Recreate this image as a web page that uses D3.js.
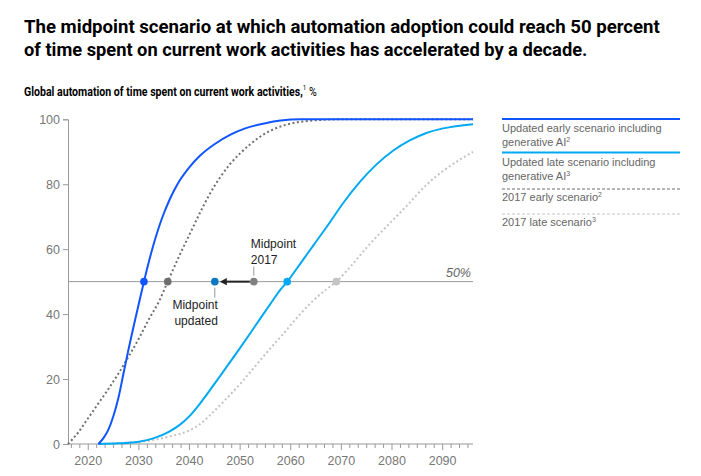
<!DOCTYPE html>
<html>
<head>
<meta charset="utf-8">
<script src="https://cdn.jsdelivr.net/npm/d3@7"></script>
<style>
  body { margin: 0; background: #fff; }
  text { font-family: "Liberation Sans", Arial, sans-serif; }
  .head { font-family: Roboto, "Liberation Sans", sans-serif; }
</style>
</head>
<body>
<script>
// series: [year, % of time automated]
var earlyNew = [[2022,0],[2023,1.8],[2024,4.5],[2025,8.8],[2026,14.5],[2027,22],[2028,29.5],[2029,36.5],[2030,43.3],[2031,50],[2032,56.3],[2033,62],[2034,67],[2035,71.3],[2036,75],[2037,78.2],[2038,81],[2040,85.3],[2042,88.7],[2045,92.4],[2048,95.2],[2051,97.2],[2055,98.8],[2058,99.6],[2062,100],[2096,100]];
var lateNew = [[2022,0],[2026,0.2],[2030,0.7],[2033,1.8],[2036,3.8],[2038,5.8],[2040,8.6],[2042,12.3],[2044,16.5],[2046,20.8],[2048,25.2],[2050,29.6],[2052,34.1],[2054,38.7],[2056,43.2],[2058,47.6],[2059.3,50],[2062,55.8],[2064.3,60.8],[2067.6,68],[2070.4,74.3],[2073.7,80.8],[2077,86.2],[2080.2,90.3],[2083.5,93.5],[2086.8,95.8],[2090.1,97.2],[2096,98.5]];
var earlyOld = [[2016,0],[2018,3.5],[2020,8],[2022,12.5],[2024,17],[2026,21.8],[2028,27],[2030,32.5],[2032,38.5],[2034,44],[2035.7,50],[2038,58],[2040,64.5],[2042,71],[2044,77],[2046,82],[2048,86.2],[2050,89.5],[2052,92.3],[2054,94.7],[2056,96.5],[2058,97.8],[2061,99],[2065,99.7],[2070,100],[2096,100]];
var lateOld = [[2022,0],[2028,0.4],[2032,1],[2036,2.3],[2040,4.2],[2042,6],[2044,8.8],[2047,13.5],[2050,18.5],[2053,24],[2056,29.5],[2058,33],[2061,38.5],[2064,43.5],[2066.5,47],[2069,50],[2072,55],[2075,60.5],[2078,65.5],[2080.2,69],[2083,73.5],[2086.8,79.8],[2090,84],[2093,87.2],[2096,90]];

// where each scenario crosses 50%
var crossYears = [2031, 2035.7, 2059.3, 2069];
var crossColors = ["#1055ff", "#6f6f6f", "#00a9f2", "#c4c4c4"];
// midpoint markers (updated, 2017)
var midYears = [2045, 2052.7];
var midLabels = [["Midpoint", "updated"], ["Midpoint", "2017"]];

var yTicks = [0, 20, 40, 60, 80, 100];
var xTicks = [2020, 2030, 2040, 2050, 2060, 2070, 2080, 2090];

var legendLabels = [
  ["Updated early scenario including", "generative AI", "2"],
  ["Updated late scenario including", "generative AI", "3"],
  ["2017 early scenario", "", "2"],
  ["2017 late scenario", "", "3"]
];

var W = 701, H = 476;
var svg = d3.select("body").append("svg")
    .attr("width", W)
    .attr("height", H);

var x = d3.scaleLinear().domain([2016, 2096]).range([68, 473]);
var y = d3.scaleLinear().domain([0, 100]).range([444, 119.3]);

// the original uses a condensed face: squeeze each heading line to its width
function squeeze(sel, x0, width) {
  var w = sel.node().getComputedTextLength();
  sel.attr("x", 0).attr("transform", "translate(" + x0 + ",0) scale(" + (width / w) + ",1)");
}

var t1 = svg.append("text").attr("class", "head").attr("y", 33)
    .attr("font-size", 19).attr("font-weight", "bold").attr("fill", "#000")
    .text("The midpoint scenario at which automation adoption could reach 50 percent");
squeeze(t1, 24, 636);
var t2 = svg.append("text").attr("class", "head").attr("y", 56)
    .attr("font-size", 19).attr("font-weight", "bold").attr("fill", "#000")
    .text("of time spent on current work activities has accelerated by a decade.");
squeeze(t2, 24, 564);

var sub = svg.append("text").attr("class", "head").attr("y", 96)
    .attr("font-size", 13.5).attr("fill", "#000");
sub.append("tspan").attr("font-weight", "bold").text("Global automation of time spent on current work activities,");
sub.append("tspan").attr("font-size", 8).attr("dy", -5.5).text("1");
sub.append("tspan").attr("dy", 5.5).text(" %");
squeeze(sub, 24, 293);

// axes
var yAxis = d3.axisLeft(y).tickValues(yTicks).tickSize(5).tickPadding(3);
var gy = svg.append("g").attr("transform", "translate(68,0)").call(yAxis);
gy.select(".domain").attr("stroke", "#999");
gy.selectAll(".tick line").attr("stroke", "#999");
gy.selectAll("text").attr("font-size", 12.5).attr("fill", "#777")
    .style("font-family", "'Liberation Sans', Arial, sans-serif");

var minor = d3.range(2016 + 2/3, 2096.01, 10/6);
var gx = svg.append("g").attr("transform", "translate(0,444)");
gx.append("line").attr("x1", 68).attr("x2", 473).attr("stroke", "#999");
gx.selectAll(".mt").data(minor).enter().append("line")
    .attr("x1", function(d) { return x(d); }).attr("x2", function(d) { return x(d); })
    .attr("y1", 0).attr("y2", function(d) { return Math.abs(Math.round(d) - d) < 0.05 && Math.round(d) % 10 == 0 ? 6 : 4; })
    .attr("stroke", "#999");
gx.selectAll(".lbl").data(xTicks).enter().append("text")
    .attr("x", function(d) { return x(d); }).attr("y", 21)
    .attr("text-anchor", "middle").attr("font-size", 12.5).attr("fill", "#777")
    .text(function(d) { return d; });

// 50% line
svg.append("line").attr("x1", 68).attr("x2", 473)
    .attr("y1", y(50)).attr("y2", y(50)).attr("stroke", "#999");
svg.append("text").attr("x", 471).attr("y", y(50) - 5)
    .attr("text-anchor", "end").attr("font-size", 12.5).attr("font-style", "italic")
    .attr("fill", "#666").text("50%");

var line = d3.line()
    .x(function(d) { return x(d[0]); })
    .y(function(d) { return y(d[1]); })
    .curve(d3.curveMonotoneX);

svg.append("path").datum(lateOld).attr("d", line).attr("fill", "none")
    .attr("stroke", "#c4c4c4").attr("stroke-width", 2).attr("stroke-dasharray", "2,2.5");
svg.append("path").datum(earlyOld).attr("d", line).attr("fill", "none")
    .attr("stroke", "#6f6f6f").attr("stroke-width", 2).attr("stroke-dasharray", "2,2.5");
svg.append("path").datum(lateNew).attr("d", line).attr("fill", "none")
    .attr("stroke", "#00a9f2").attr("stroke-width", 2);
svg.append("path").datum(earlyNew).attr("d", line).attr("fill", "none")
    .attr("stroke", "#1055ff").attr("stroke-width", 2);

svg.selectAll(".cross").data(crossYears).enter().append("circle")
    .attr("cx", function(d) { return x(d); }).attr("cy", y(50)).attr("r", 3.8)
    .attr("fill", function(d, i) { return crossColors[i]; });

// arrow from 2017 midpoint to updated midpoint
svg.append("line").attr("x1", x(midYears[1]) - 4).attr("x2", x(midYears[0]) + 10)
    .attr("y1", y(50)).attr("y2", y(50)).attr("stroke", "#222").attr("stroke-width", 2);
var tip = x(midYears[0]) + 5;
svg.append("path")
    .attr("d", "M" + tip + "," + y(50) + "L" + (tip + 7) + "," + (y(50) - 3.6) + "L" + (tip + 7) + "," + (y(50) + 3.6) + "Z")
    .attr("fill", "#222");

svg.append("circle").attr("cx", x(midYears[0])).attr("cy", y(50)).attr("r", 3.8).attr("fill", "#0a78c2");
svg.append("circle").attr("cx", x(midYears[1])).attr("cy", y(50)).attr("r", 3.8).attr("fill", "#808080");

// leaders + labels
svg.append("line").attr("x1", x(midYears[0])).attr("x2", x(midYears[0]))
    .attr("y1", y(50) + 6).attr("y2", y(50) + 16).attr("stroke", "#999");
svg.append("line").attr("x1", x(midYears[1])).attr("x2", x(midYears[1]))
    .attr("y1", y(50) - 15).attr("y2", y(50) - 6).attr("stroke", "#999");

var lu = svg.append("text").attr("font-size", 12).attr("fill", "#222").attr("text-anchor", "end");
lu.append("tspan").attr("x", x(midYears[0]) + 3).attr("y", 309).text(midLabels[0][0]);
lu.append("tspan").attr("x", x(midYears[0]) + 3).attr("y", 325).text(midLabels[0][1]);
var lo = svg.append("text").attr("font-size", 12).attr("fill", "#222");
lo.append("tspan").attr("x", x(midYears[1]) - 3).attr("y", 248).text(midLabels[1][0]);
lo.append("tspan").attr("x", x(midYears[1]) - 3).attr("y", 264).text(midLabels[1][1]);

// legend
var legY = [119, 152.5, 189, 214];
var legStroke = ["#1055ff", "#00a9f2", "#6f6f6f", "#c4c4c4"];
var legWidth = [2, 2, 1.2, 1.2];
var legDash = [null, null, "3,2", "3,2"];
var leg = svg.selectAll(".leg").data(legendLabels).enter().append("g")
    .attr("transform", function(d, i) { return "translate(502," + legY[i] + ")"; });
leg.append("line").attr("x1", 0).attr("x2", 178)
    .attr("stroke", function(d, i) { return legStroke[i]; })
    .attr("stroke-width", function(d, i) { return legWidth[i]; })
    .attr("stroke-dasharray", function(d, i) { return legDash[i]; });
leg.each(function(d) {
  var t = d3.select(this).append("text").attr("font-size", 11).attr("fill", "#666");
  if (d[1]) {
    t.append("tspan").attr("x", 0).attr("y", 13).text(d[0]);
    t.append("tspan").attr("x", 0).attr("y", 27).text(d[1]);
  } else {
    t.append("tspan").attr("x", 0).attr("y", 12).text(d[0]);
  }
  t.append("tspan").attr("font-size", 7).attr("dy", -4).text(d[2]);
});
</script>
</body>
</html>
